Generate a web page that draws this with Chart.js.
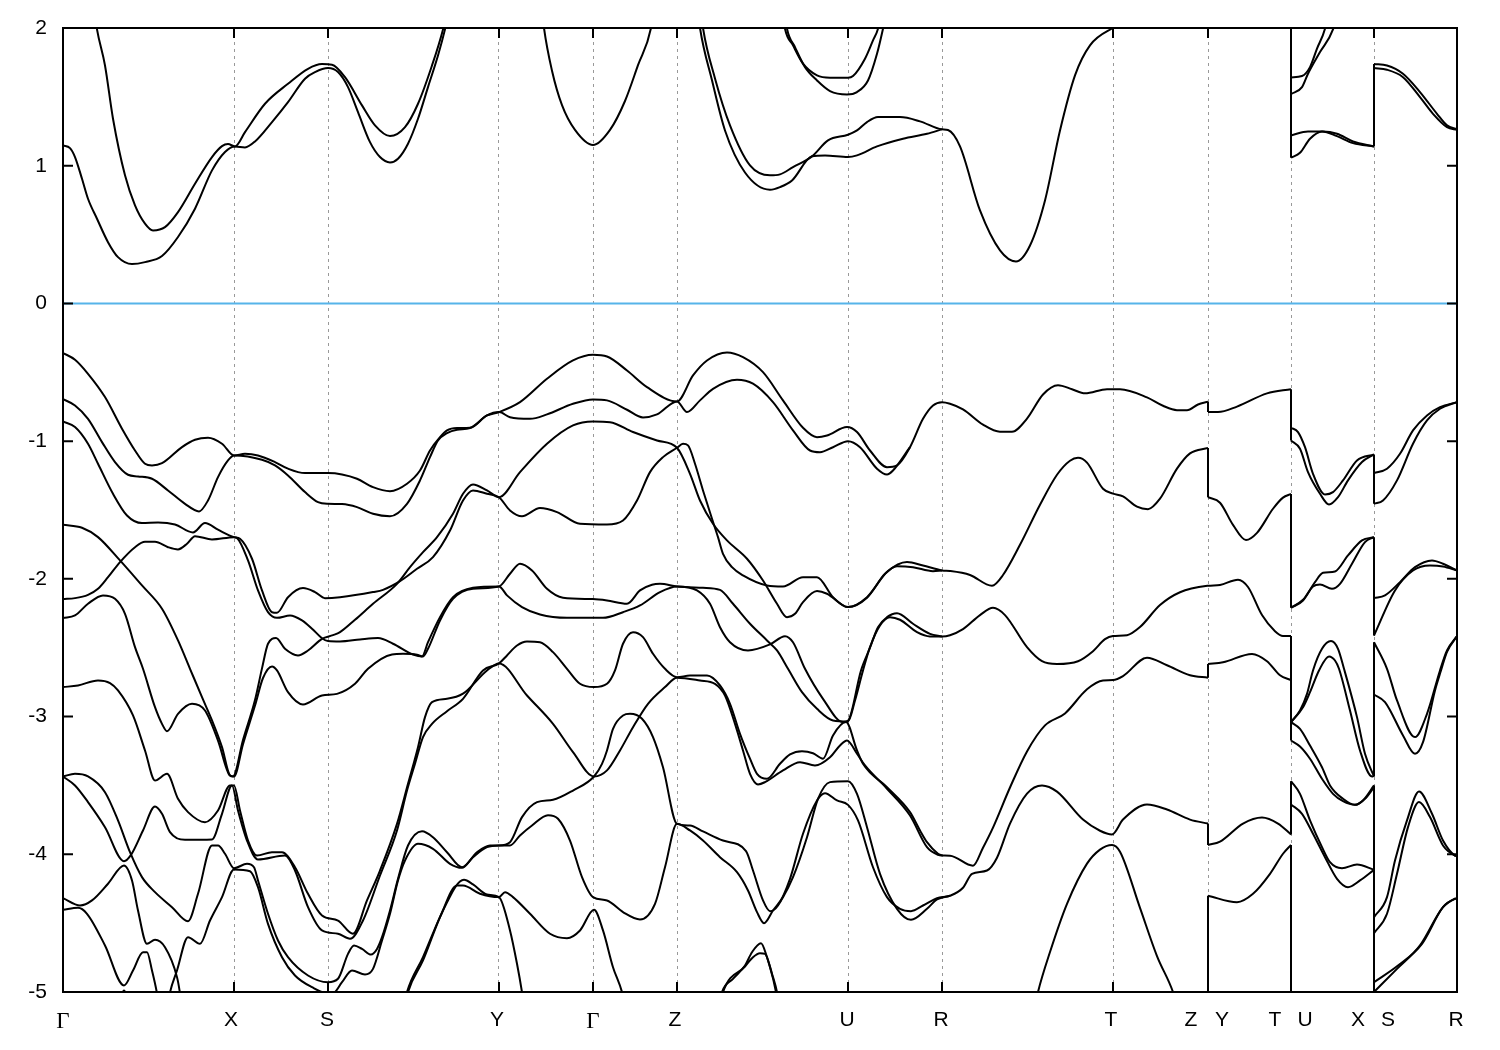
<!DOCTYPE html>
<html><head><meta charset="utf-8">
<style>html,body{margin:0;padding:0;background:#fff}canvas{display:block}</style>
<script src="https://cdn.jsdelivr.net/npm/chart.js@4/dist/chart.umd.js"></script>
</head><body><canvas id="c" width="1500" height="1050"></canvas>
<script>
// k-path coordinate of the high symmetry points, axis labels and their anchor positions
const kTicks=[171,265,436,530,614,785,879,1050,1145,1228,1311];
const kLabels=['Γ','X','S','Y','Γ','Z','U','R','T','Z','Y','T','U','X','S','R'];
const kLabelPos=[0,168,264,434,530,612,784,878,1048,1128,1159,1212,1242,1295,1325,1393];
const energyTicks=[-5,-4,-3,-2,-1,0,1,2];
const fermi=[[0,0],[1394,0]];

// conduction bands
const cb1=[[0,1.147],[7,1.128],[12,1.063],[19,.905],[25,.76],[34,.615],[45,.445],[55,.336],[69,.286],[82,.30],[99,.344],[115,.482],[132,.688],[149,.966],[162,1.10],[172,1.14],[182,1.133],[192,1.176],[209,1.317],[225,1.462],[242,1.632],[252,1.68],[265,1.709],[275,1.68],[285,1.571],[295,1.389],[307,1.171],[317,1.063],[327,1.024],[335,1.051],[345,1.16],[355,1.341],[365,1.571],[375,1.80],[382,1.99],[386,2.12]];
const cb2=[[31,2.14],[34,1.99],[42,1.728],[50,1.341],[62,.93],[72,.712],[82,.579],[90,.53],[102,.554],[115,.663],[132,.869],[149,1.063],[159,1.142],[165,1.157],[172,1.14],[182,1.244],[202,1.45],[225,1.595],[245,1.704],[259,1.738],[269,1.733],[282,1.643],[299,1.438],[312,1.293],[327,1.215],[342,1.28],[355,1.45],[369,1.728],[380,1.99],[384,2.12]];
const cb3=[[478,2.2],[481,2.0],[489,1.69],[499,1.44],[512,1.26],[530,1.15],[547,1.26],[562,1.47],[575,1.73],[588,2.0],[592,2.2]];
const cb4=[[638,2.12],[640,2.0],[652,1.634],[667,1.293],[687,1.002],[707,.93],[717,.937],[730,.99],[749,1.068],[765,1.184],[785,1.225],[794,1.256],[804,1.317],[815,1.353],[837,1.353],[857,1.322],[879,1.264],[885,1.259],[897,1.14],[917,.675],[937,.385],[953,.305],[967,.421],[982,.748],[997,1.256],[1012,1.656],[1027,1.874],[1050,2.0],[1056,2.02]];
const cb5=[[635,2.12],[637,2.0],[649,1.62],[662,1.256],[682,.951],[707,.826],[717,.845],[729,.893],[749,1.068],[762,1.075],[785,1.063],[794,1.075],[814,1.14],[840,1.196],[864,1.232],[879,1.264]];
const cb6=[[720,2.1],[722,1.995],[730,1.874],[740,1.741],[754,1.656],[767,1.639],[785,1.639],[790,1.651],[802,1.777],[810,1.91],[815,1.995],[818,2.1]];
const cb7=[[722,2.1],[724,1.995],[732,1.861],[742,1.716],[754,1.619],[767,1.542],[784,1.518],[794,1.535],[805,1.619],[814,1.813],[820,1.995],[823,2.1]];
const cb8=[[1228,1.641],[1239,1.651],[1247,1.716],[1254,1.85],[1262,1.995],[1265,2.1]];
const cb9=[[1228,1.52],[1239,1.571],[1245,1.668],[1257,1.825],[1270,1.99],[1274,2.1]];
const cb10=[[1228,1.22],[1245,1.249],[1260,1.249],[1274,1.232],[1290,1.176],[1311,1.14]];
const cb11=[[1228,1.058],[1237,1.094],[1247,1.196],[1259,1.249],[1274,1.215],[1290,1.164],[1311,1.14]];
const cb12=[[1311,1.738],[1324,1.728],[1340,1.668],[1357,1.535],[1374,1.377],[1384,1.293],[1394,1.264]];
const cb13=[[1311,1.709],[1324,1.697],[1340,1.643],[1357,1.498],[1370,1.377],[1384,1.28],[1394,1.261]];

// valence bands, Γ to Z
const vb1=[[0,-.36],[12,-.409],[25,-.511],[42,-.68],[59,-.91],[72,-1.068],[82,-1.164],[89,-1.176],[99,-1.16],[119,-1.043],[132,-.99],[145,-.975],[159,-1.019],[171,-1.104],[182,-1.092],[195,-1.104],[212,-1.152],[225,-1.2],[242,-1.232],[265,-1.232],[279,-1.242],[294,-1.273],[310,-1.334],[327,-1.363],[344,-1.309],[357,-1.213],[367,-1.068],[377,-.971],[384,-.922],[394,-.905],[407,-.903],[424,-.813],[436,-.789],[457,-.717],[484,-.547],[510,-.414],[530,-.373],[544,-.385],[564,-.487],[584,-.608],[614,-.712],[630,-.523],[644,-.414],[664,-.356],[680,-.39],[700,-.499],[720,-.704],[740,-.903],[754,-.971],[764,-.959],[784,-.898],[794,-.934],[807,-1.068],[824,-1.189],[834,-1.176],[847,-1.044],[860,-.838],[870,-.741],[879,-.717],[887,-.728],[900,-.769],[920,-.88],[937,-.932],[949,-.932],[964,-.836],[980,-.661],[995,-.594],[1009,-.623],[1022,-.653],[1044,-.623],[1057,-.623],[1084,-.682],[1100,-.743],[1114,-.775],[1124,-.775],[1135,-.734],[1145,-.714]];
const vb2=[[0,-.695],[12,-.741],[25,-.838],[39,-1.007],[52,-1.152],[65,-1.244],[75,-1.256],[89,-1.273],[105,-1.358],[122,-1.455],[136,-1.51],[145,-1.431],[155,-1.261],[165,-1.14],[171,-1.104],[199,-1.135],[212,-1.176],[225,-1.249],[242,-1.37],[255,-1.443],[265,-1.455],[279,-1.457],[294,-1.479],[310,-1.527],[327,-1.545],[344,-1.455],[357,-1.285],[367,-1.116],[375,-.995],[384,-.942],[394,-.917],[407,-.905],[424,-.813],[436,-.789],[447,-.826],[467,-.838],[484,-.806],[510,-.729],[530,-.697],[544,-.704],[564,-.772],[580,-.828],[594,-.806],[614,-.712],[624,-.789],[637,-.704],[650,-.62],[674,-.554],[690,-.583],[710,-.717],[730,-.922],[747,-1.068],[757,-1.08],[770,-1.044],[785,-1.0],[797,-1.044],[814,-1.2],[824,-1.242],[830,-1.213],[847,-1.044]];
const vb3=[[0,-.857],[12,-.898],[25,-1.019],[35,-1.164],[50,-1.382],[64,-1.54],[79,-1.595],[95,-1.59],[112,-1.605],[130,-1.663],[142,-1.595],[155,-1.643],[171,-1.697],[177,-1.709],[189,-1.854],[199,-2.084],[209,-2.242],[214,-2.246],[225,-2.133],[240,-2.067],[252,-2.096],[262,-2.14],[277,-2.133],[310,-2.096],[320,-2.08],[337,-2.017],[354,-1.927],[370,-1.842],[387,-1.649],[400,-1.431],[410,-1.358],[424,-1.382],[436,-1.407],[447,-1.503],[459,-1.545],[477,-1.486],[494,-1.515],[517,-1.6],[544,-1.605],[560,-1.576],[574,-1.431],[587,-1.225],[600,-1.116],[614,-1.048],[620,-1.019],[625,-1.031],[632,-1.164],[640,-1.358],[649,-1.564],[655,-1.697],[660,-1.818],[669,-1.915],[680,-1.975],[704,-2.048],[720,-2.055],[740,-1.988],[754,-1.988],[770,-2.133],[785,-2.205],[804,-2.133],[824,-1.951],[844,-1.878],[860,-1.903],[879,-1.939],[887,-1.943],[907,-1.972],[929,-2.05],[940,-1.972],[957,-1.753],[977,-1.462],[994,-1.244],[1007,-1.142],[1015,-1.121],[1024,-1.156],[1040,-1.346],[1050,-1.381],[1060,-1.401],[1074,-1.476],[1085,-1.494],[1097,-1.418],[1114,-1.2],[1127,-1.089],[1145,-1.049]];
const vb4=[[0,-2.147],[12,-2.14],[25,-2.116],[35,-2.072],[45,-1.988],[57,-1.878],[72,-1.77],[82,-1.731],[92,-1.731],[105,-1.77],[115,-1.786],[124,-1.745],[132,-1.69],[149,-1.714],[171,-1.697],[174,-1.703],[185,-1.866],[195,-2.084],[205,-2.242],[214,-2.283],[227,-2.266],[239,-2.302],[249,-2.362],[259,-2.431],[265,-2.452],[277,-2.455],[297,-2.44],[315,-2.43],[330,-2.471],[350,-2.549],[360,-2.563],[365,-2.508],[377,-2.302],[390,-2.145],[410,-2.072],[436,-2.055],[447,-1.963],[457,-1.89],[469,-1.939],[484,-2.072],[500,-2.137],[530,-2.147],[544,-2.157],[564,-2.181],[577,-2.084],[589,-2.043],[597,-2.036],[614,-2.055],[640,-2.065],[657,-2.08],[670,-2.181],[687,-2.326],[704,-2.447],[714,-2.52],[725,-2.653],[739,-2.823],[754,-2.944],[770,-3.028],[785,-3.035],[792,-2.883],[800,-2.665],[807,-2.496],[817,-2.338],[827,-2.278],[837,-2.297],[854,-2.387],[867,-2.418],[879,-2.418],[887,-2.409],[900,-2.365],[917,-2.263],[930,-2.21],[942,-2.263],[964,-2.496],[979,-2.598],[994,-2.618],[1015,-2.598],[1030,-2.525],[1042,-2.438],[1050,-2.415],[1064,-2.409],[1077,-2.35],[1097,-2.19],[1117,-2.097],[1145,-2.05],[1157,-2.044],[1175,-2.006],[1185,-2.059],[1199,-2.263],[1212,-2.38],[1220,-2.415],[1228,-2.415]];
const vb5=[[0,-2.285],[12,-2.266],[25,-2.181],[40,-2.12],[52,-2.145],[62,-2.254],[72,-2.496],[80,-2.653],[92,-2.932],[99,-3.053],[104,-3.106],[115,-2.98],[129,-2.907],[142,-2.956],[155,-3.174],[167,-3.428],[171,-3.435],[180,-3.2],[192,-2.92],[200,-2.72],[209,-2.636],[214,-2.665],[225,-2.823],[240,-2.912],[259,-2.847],[274,-2.835],[292,-2.762],[305,-2.653],[329,-2.549],[340,-2.544],[354,-2.551],[359,-2.563],[365,-2.46],[377,-2.278],[390,-2.133],[410,-2.065],[436,-2.055],[444,-2.12],[459,-2.205],[477,-2.259],[504,-2.283],[540,-2.283],[560,-2.242],[577,-2.193],[597,-2.096],[614,-2.055],[634,-2.084],[647,-2.181],[657,-2.351],[667,-2.46],[685,-2.52],[707,-2.476],[722,-2.416],[730,-2.46],[742,-2.653],[760,-2.871],[780,-3.04],[785,-3.03],[798,-2.665],[807,-2.5],[815,-2.351],[824,-2.278],[834,-2.249],[850,-2.326],[867,-2.399],[879,-2.418]];
const vb6=[[0,-1.607],[19,-1.629],[35,-1.697],[57,-1.866],[79,-2.048],[99,-2.217],[115,-2.447],[127,-2.653],[139,-2.859],[149,-3.028],[159,-3.222],[167,-3.428],[170,-3.435],[180,-3.17],[192,-2.88],[199,-2.65],[205,-2.471],[213,-2.43],[222,-2.508],[235,-2.556],[245,-2.52],[259,-2.435],[270,-2.409],[277,-2.387],[292,-2.297],[310,-2.181],[334,-2.036],[347,-1.915],[360,-1.806],[374,-1.697],[390,-1.527],[400,-1.382],[410,-1.314],[424,-1.358],[436,-1.407],[457,-1.225],[484,-1.019],[510,-.886],[530,-.857],[547,-.862],[570,-.934],[594,-.995],[614,-1.048],[627,-1.237],[637,-1.431],[650,-1.6],[664,-1.721],[684,-1.854],[700,-2.012],[714,-2.181],[724,-2.278],[732,-2.254],[740,-2.169],[754,-2.089],[764,-2.108],[785,-2.205],[804,-2.137],[822,-1.963],[834,-1.908],[850,-1.915],[870,-1.944],[879,-1.939]];
const vb7=[[0,-2.786],[15,-2.774],[35,-2.738],[47,-2.757],[55,-2.81],[70,-2.992],[82,-3.246],[92,-3.464],[104,-3.416],[115,-3.597],[125,-3.694],[142,-3.767],[155,-3.682],[167,-3.5],[171,-3.5],[177,-3.682],[185,-3.9],[194,-4.009],[209,-3.985],[219,-3.985],[232,-4.094],[245,-4.287],[259,-4.444],[275,-4.481],[290,-4.577],[304,-4.335],[317,-4.118],[334,-3.779],[345,-3.488],[355,-3.222],[362,-3.004],[369,-2.895],[384,-2.871],[400,-2.834],[424,-2.665],[436,-2.614],[464,-2.847],[490,-3.053],[510,-3.258],[531,-3.435],[544,-3.391],[557,-3.246],[570,-3.077],[585,-2.907],[602,-2.786],[614,-2.718],[637,-2.738],[652,-2.762],[662,-2.847],[672,-3.053],[680,-3.246],[687,-3.416],[695,-3.493],[702,-3.476],[720,-3.391],[737,-3.331],[752,-3.355],[767,-3.295],[777,-3.21],[784,-3.174],[794,-3.27],[802,-3.355],[824,-3.524],[847,-3.718],[864,-3.948],[875,-4.004],[879,-4.009],[887,-4.01],[910,-4.083],[920,-3.952],[930,-3.806],[947,-3.515],[964,-3.253],[982,-3.064],[1002,-2.977],[1024,-2.802],[1040,-2.738],[1050,-2.735],[1060,-2.706],[1084,-2.572],[1104,-2.627],[1127,-2.7],[1145,-2.718]];
const vb8=[[0,-3.435],[12,-3.5],[25,-3.621],[42,-3.803],[61,-4.05],[68,-4.004],[80,-3.827],[92,-3.653],[99,-3.706],[107,-3.839],[122,-3.895],[149,-3.892],[159,-3.706],[169,-3.5],[175,-3.682],[184,-3.9],[195,-4.038],[222,-4.009],[232,-4.118],[245,-4.384],[259,-4.553],[275,-4.577],[287,-4.614],[300,-4.481],[317,-4.154],[334,-3.827],[344,-3.537],[352,-3.343],[360,-3.149],[369,-3.053],[384,-2.961],[400,-2.871],[420,-2.665],[436,-2.614],[444,-2.556],[454,-2.484],[464,-2.455],[477,-2.46],[490,-2.532],[504,-2.653],[517,-2.762],[531,-2.786],[544,-2.762],[552,-2.665],[560,-2.471],[570,-2.387],[580,-2.423],[590,-2.544],[602,-2.653],[614,-2.714],[627,-2.702],[644,-2.702],[657,-2.774],[667,-2.907],[677,-3.125],[687,-3.306],[694,-3.416],[704,-3.452],[717,-3.343],[727,-3.275],[739,-3.251],[750,-3.266],[760,-3.306],[770,-3.137],[783,-3.04],[794,-3.246],[800,-3.343],[824,-3.513],[847,-3.694],[857,-3.827],[864,-3.912],[875,-3.996],[879,-4.009]];
const vb9=[[0,-3.435],[12,-3.416],[25,-3.435],[42,-3.549],[55,-3.754],[67,-3.985],[79,-4.166],[92,-4.275],[109,-4.384],[125,-4.486],[135,-4.287],[149,-3.936],[155,-3.936],[162,-3.996],[171,-4.101],[184,-4.069],[191,-4.094],[195,-4.19],[205,-4.432],[215,-4.626],[225,-4.747],[245,-4.88],[265,-4.929],[275,-4.904],[285,-4.723],[291,-4.662],[299,-4.687],[308,-4.728],[314,-4.687],[319,-4.602],[327,-4.408],[335,-4.178],[345,-3.936],[359,-3.832],[370,-3.876],[384,-3.985],[399,-4.094],[414,-3.985],[427,-3.936],[436,-3.936],[447,-3.912],[459,-3.73],[474,-3.621],[490,-3.604],[510,-3.537],[531,-3.435],[539,-3.343],[544,-3.246],[550,-3.089],[560,-2.992],[567,-2.98],[579,-3.016],[590,-3.149],[600,-3.368],[614,-3.779],[627,-3.791],[640,-3.834],[660,-3.9],[683,-3.977],[690,-4.118],[700,-4.335],[707,-4.413],[715,-4.372],[727,-4.178],[740,-3.851],[754,-3.609],[762,-3.556],[774,-3.609],[785,-3.641],[795,-3.754],[810,-4.094],[824,-4.311],[837,-4.396],[848,-4.413],[860,-4.372],[874,-4.319],[887,-4.301],[900,-4.243],[909,-4.142],[924,-4.118],[934,-4.025],[947,-3.777],[964,-3.559],[979,-3.5],[994,-3.545],[1020,-3.748],[1037,-3.829],[1049,-3.856],[1060,-3.748],[1084,-3.638],[1104,-3.675],[1127,-3.748],[1145,-3.777]];
const vb10=[[100,-5.3],[107,-5.003],[114,-4.844],[125,-4.602],[137,-4.65],[147,-4.481],[159,-4.311],[171,-4.11],[187,-4.123],[195,-4.239],[205,-4.505],[219,-4.747],[232,-4.88],[249,-4.965],[265,-5.009],[270,-5.009],[279,-4.929],[289,-4.844],[302,-4.873],[310,-4.832],[319,-4.626],[327,-4.432],[335,-4.19],[342,-4.045],[355,-3.924],[370,-3.96],[387,-4.069],[399,-4.098],[410,-4.021],[424,-3.948],[436,-3.936],[447,-3.936],[457,-3.863],[469,-3.791],[485,-3.716],[495,-3.742],[507,-3.9],[519,-4.166],[530,-4.311],[544,-4.335],[560,-4.42],[577,-4.473],[592,-4.36],[602,-4.094],[614,-3.779],[627,-3.827],[640,-3.9],[657,-4.021],[674,-4.13],[685,-4.263],[694,-4.42],[701,-4.5],[710,-4.408],[720,-4.311],[730,-4.166],[744,-3.876],[755,-3.597],[767,-3.476],[785,-3.469],[794,-3.561],[804,-3.803],[817,-4.142],[834,-4.396],[848,-4.476],[864,-4.396],[874,-4.328],[887,-4.301]];
const vb11=[[0,-4.319],[17,-4.372],[29,-4.335],[45,-4.214],[61,-4.081],[69,-4.19],[75,-4.408],[84,-4.65],[92,-4.621],[102,-4.675],[114,-4.892],[117,-5.01],[122,-5.3]];
const vb12=[[0,-4.403],[15,-4.389],[24,-4.432],[42,-4.662],[61,-4.953],[70,-4.844],[80,-4.711],[84,-4.711],[89,-4.844],[94,-5.01],[98,-5.2]];
const vb13=[[55,-5.1],[61,-4.99],[67,-5.1]];
const vb14=[[335,-5.3],[344,-5.001],[360,-4.747],[377,-4.456],[394,-4.227],[400,-4.227],[417,-4.287],[436,-4.311],[442,-4.275],[450,-4.311],[467,-4.432],[487,-4.577],[504,-4.609],[517,-4.553],[531,-4.403],[540,-4.553],[550,-4.82],[559,-5.001],[565,-5.2]];
const vb15=[[336,-5.3],[345,-5.001],[360,-4.771],[380,-4.408],[401,-4.185],[410,-4.219],[424,-4.292],[436,-4.311],[447,-4.553],[454,-4.795],[459,-5.001],[463,-5.2]];
const vb16=[[650,-5.3],[659,-5.001],[670,-4.904],[682,-4.808],[689,-4.711],[698,-4.646],[704,-4.747],[710,-4.892],[714,-5.001],[718,-5.2]];
const vb17=[[651,-5.3],[660,-5.001],[682,-4.815],[690,-4.747],[697,-4.718],[702,-4.723],[707,-4.82],[713,-5.001],[717,-5.2]];
const vb18=[[970,-5.17],[975,-5.0],[987,-4.71],[1004,-4.36],[1024,-4.068],[1037,-3.966],[1049,-3.932],[1057,-3.981],[1077,-4.389],[1094,-4.739],[1110,-5.0],[1116,-5.15]];

// Y to T
const yt1=[[1145,-.789],[1155,-.789],[1174,-.749],[1204,-.653],[1228,-.623]];
const yt2=[[1145,-1.407],[1157,-1.447],[1170,-1.608],[1183,-1.718],[1194,-1.666],[1210,-1.491],[1220,-1.41],[1228,-1.383]];
const yt3=[[1145,-2.618],[1160,-2.606],[1189,-2.545],[1204,-2.598],[1217,-2.7],[1228,-2.735]];
const yt4=[[1145,-3.932],[1157,-3.908],[1180,-3.777],[1199,-3.733],[1215,-3.777],[1228,-3.856]];
const yt5=[[1145,-4.301],[1174,-4.348],[1190,-4.287],[1207,-4.142],[1220,-3.996],[1228,-3.932]];

// U to X
const ux1=[[1228,-.903],[1235,-.934],[1242,-1.044],[1250,-1.237],[1262,-1.387],[1270,-1.37],[1280,-1.285],[1294,-1.14],[1311,-1.097]];
const ux2=[[1228,-.995],[1237,-1.055],[1245,-1.225],[1257,-1.382],[1266,-1.46],[1275,-1.407],[1285,-1.285],[1299,-1.152],[1311,-1.097]];
const ux3=[[1228,-2.21],[1240,-2.157],[1252,-2.024],[1260,-1.956],[1272,-1.946],[1285,-1.83],[1299,-1.721],[1311,-1.697]];
const ux4=[[1228,-2.21],[1240,-2.152],[1250,-2.055],[1257,-2.041],[1269,-2.072],[1277,-2.036],[1289,-1.89],[1302,-1.733],[1311,-1.697]];
const ux5=[[1228,-3.04],[1237,-2.956],[1244,-2.835],[1250,-2.665],[1259,-2.508],[1268,-2.452],[1275,-2.508],[1281,-2.653],[1294,-3.004],[1302,-3.27],[1311,-3.435]];
const ux6=[[1228,-3.04],[1240,-2.932],[1247,-2.823],[1256,-2.665],[1266,-2.563],[1272,-2.593],[1276,-2.653],[1287,-2.956],[1297,-3.246],[1309,-3.435],[1311,-3.43]];
const ux7=[[1228,-3.04],[1237,-3.089],[1247,-3.21],[1259,-3.368],[1267,-3.5],[1280,-3.597],[1292,-3.641],[1300,-3.609],[1311,-3.5]];
const ux8=[[1228,-3.174],[1237,-3.217],[1247,-3.306],[1259,-3.452],[1270,-3.561],[1280,-3.614],[1292,-3.641],[1302,-3.597],[1311,-3.513]];
const ux9=[[1228,-3.469],[1237,-3.561],[1247,-3.754],[1259,-3.948],[1267,-4.057],[1279,-4.101],[1294,-4.074],[1311,-4.113]];
const ux10=[[1228,-3.638],[1239,-3.706],[1250,-3.851],[1262,-4.021],[1274,-4.178],[1285,-4.239],[1297,-4.19],[1311,-4.113]];

// S to R
const sr1=[[1311,-1.232],[1324,-1.2],[1337,-1.092],[1350,-.922],[1364,-.813],[1377,-.753],[1394,-.717]];
const sr2=[[1311,-1.455],[1320,-1.431],[1334,-1.285],[1350,-1.019],[1364,-.85],[1377,-.765],[1394,-.717]];
const sr3=[[1311,-2.14],[1322,-2.12],[1337,-2.024],[1352,-1.915],[1369,-1.866],[1380,-1.89],[1394,-1.939]];
const sr4=[[1311,-2.411],[1332,-2.084],[1350,-1.939],[1367,-1.903],[1380,-1.91],[1394,-1.939]];
const sr5=[[1311,-2.46],[1324,-2.653],[1334,-2.883],[1352,-3.149],[1364,-2.98],[1377,-2.665],[1384,-2.52],[1394,-2.416]];
const sr6=[[1311,-2.84],[1322,-2.895],[1340,-3.137],[1352,-3.27],[1360,-3.186],[1372,-2.81],[1378,-2.665],[1384,-2.53],[1394,-2.416]];
const sr7=[[1311,-4.456],[1324,-4.311],[1332,-4.045],[1344,-3.754],[1356,-3.544],[1369,-3.706],[1380,-3.9],[1392,-4.009],[1394,-4.012]];
const sr8=[[1311,-4.573],[1324,-4.432],[1334,-4.142],[1345,-3.803],[1356,-3.621],[1367,-3.73],[1380,-3.936],[1392,-4.009],[1394,-4.012]];
const sr9=[[1311,-4.929],[1335,-4.808],[1359,-4.65],[1380,-4.384],[1392,-4.323],[1394,-4.32]];
const sr10=[[1311,-5.0],[1334,-4.832],[1357,-4.662],[1380,-4.384],[1392,-4.323],[1394,-4.32]];

// vertical band jumps where the path is discontinuous: k, lower energy, upper energy
const jumpK=[1145,1145,1145,1145,1145,1228,1228,1228,1228,1228,1228,1311,1311,1311,1311,1311];
const jumpLow=[-.789,-1.407,-2.718,-3.932,-5.2,-.995,-2.21,-3.174,-3.856,-5.2,1.058,1.14,-1.455,-2.411,-3.435,-5.2];
const jumpHigh=[-.714,-1.049,-2.618,-3.777,-4.301,-.623,-1.383,-2.415,-3.469,-3.932,2.1,1.738,-1.097,-1.697,-2.46,-3.5];

const bands=[cb1,cb2,cb3,cb4,cb5,cb6,cb7,cb8,cb9,cb10,cb11,cb12,cb13,
 vb1,vb2,vb3,vb4,vb5,vb6,vb7,vb8,vb9,vb10,vb11,vb12,vb13,vb14,vb15,vb16,vb17,vb18,
 yt1,yt2,yt3,yt4,yt5,ux1,ux2,ux3,ux4,ux5,ux6,ux7,ux8,ux9,ux10,sr1,sr2,sr3,sr4,sr5,sr6,sr7,sr8,sr9,sr10];

const toXY=a=>a.map(p=>({x:p[0],y:p[1]}));
const datasets=[{data:toXY(fermi),borderColor:'#56b4e9',borderWidth:2,pointRadius:0,tension:0,order:5}];
bands.forEach(b=>datasets.push({data:toXY(b),borderColor:'#000',borderWidth:2,pointRadius:0,cubicInterpolationMode:'monotone',order:1}));
jumpK.forEach((k,i)=>datasets.push({data:[{x:k,y:jumpLow[i]},{x:k,y:jumpHigh[i]}],borderColor:'#000',borderWidth:2,pointRadius:0,tension:0,order:1}));

const frame={id:'frame',afterDatasetsDraw(ch){
  const c=ch.ctx,a=ch.chartArea,x=ch.scales.xGrid,y=ch.scales.y,L=10;
  c.save();c.strokeStyle='#000';c.lineWidth=2;c.beginPath();
  kTicks.forEach(k=>{const p=x.getPixelForValue(k);c.moveTo(p,a.top);c.lineTo(p,a.top+L);c.moveTo(p,a.bottom);c.lineTo(p,a.bottom-L);});
  energyTicks.slice(1,-1).forEach(e=>{const p=y.getPixelForValue(e);c.moveTo(a.left,p);c.lineTo(a.left+L,p);c.moveTo(a.right,p);c.lineTo(a.right-L,p);});
  c.stroke();c.strokeRect(a.left,a.top,a.right-a.left,a.bottom-a.top);c.restore();
}};

new Chart(document.getElementById('c'),{
 type:'line',
 data:{datasets},
 plugins:[frame],
 options:{
  responsive:false,animation:false,devicePixelRatio:1,
  layout:{padding:{top:28,right:43,left:0,bottom:0}},
  plugins:{legend:{display:false},tooltip:{enabled:false}},
  scales:{
   x:{type:'linear',min:0,max:1394,position:'bottom',
      afterBuildTicks:s=>{s.ticks=kLabelPos.map(v=>({value:v}));},
      afterFit:s=>{s.height=58;},
      grid:{display:false},border:{display:false},
      ticks:{autoSkip:false,maxRotation:0,minRotation:0,padding:8,color:'#000',
        callback:(v,i)=>kLabels[i],
        font:ctx=>(kLabels[ctx.index]==='Γ'?{family:'"Liberation Serif"',size:23}:{family:'"Liberation Sans"',size:21})}},
   xGrid:{type:'linear',min:0,max:1394,position:'top',
      afterBuildTicks:s=>{s.ticks=kTicks.map(v=>({value:v}));},
      afterFit:s=>{s.height=0;},
      grid:{color:'#999',lineWidth:1,drawTicks:false},border:{display:false,dash:[3,4]},
      ticks:{display:false}},
   y:{type:'linear',min:-5,max:2,
      afterBuildTicks:s=>{s.ticks=energyTicks.map(v=>({value:v}));},
      afterFit:s=>{s.width=63;},
      grid:{display:false},border:{display:false},
      ticks:{padding:8,color:'#000',font:{family:'"Liberation Sans"',size:21},callback:v=>String(v)}}
  }
 }
});
</script></body></html>
